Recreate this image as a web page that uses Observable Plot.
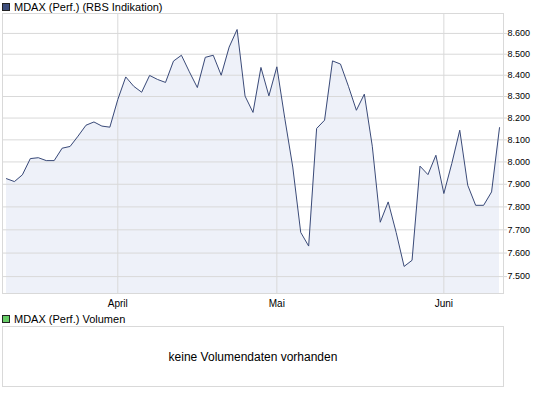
<!DOCTYPE html>
<html>
<head>
<meta charset="utf-8">
<script src="https://cdn.jsdelivr.net/npm/d3@7"></script>
<script src="https://cdn.jsdelivr.net/npm/@observablehq/plot@0.6"></script>
<style>
  body { margin: 0; background: #fff; font-family: Arial, "Liberation Sans", sans-serif; }
  #wrap { position: relative; width: 545px; height: 395px; overflow: hidden; }
  #chart { position: absolute; left: 0; top: 0; }
  .leg { position: absolute; left: 2px; font-size: 11px; line-height: 12px; color: #000; white-space: nowrap; }
  .sw { position: absolute; left: 0; top: 2px; width: 6px; height: 6px; border: 1px solid #222; }
  .leg span.t { position: absolute; left: 12px; top: 0; }
  #vol { position: absolute; left: 2px; top: 326px; width: 500px; height: 59px; border: 1px solid #d9d9d9;
         display: flex; align-items: center; justify-content: center; font-size: 12px; color: #000; }
</style>
</head>
<body>
<div id="wrap">
  <div id="chart"></div>
  <div class="leg" id="leg1" style="top:1px;"><div class="sw" style="background:#3d4d7c;"></div><span class="t"></span></div>
  <div class="leg" id="leg2" style="top:313px;"><div class="sw" style="background:#66cc66;"></div><span class="t"></span></div>
  <div id="vol"></div>
</div>
<script>
// ---- data ----
const seriesName = "MDAX (Perf.) (RBS Indikation)";
const volumeName = "MDAX (Perf.) Volumen";
const noVolumeText = "keine Volumendaten vorhanden";

const dates = [
  "2010-03-12","2010-03-15","2010-03-16","2010-03-17","2010-03-18","2010-03-19",
  "2010-03-22","2010-03-23","2010-03-24","2010-03-25","2010-03-26",
  "2010-03-29","2010-03-30","2010-03-31",
  "2010-04-01","2010-04-06","2010-04-07","2010-04-08","2010-04-09",
  "2010-04-12","2010-04-13","2010-04-14","2010-04-15","2010-04-16",
  "2010-04-19","2010-04-20","2010-04-21","2010-04-22","2010-04-23",
  "2010-04-26","2010-04-27","2010-04-28","2010-04-29","2010-04-30",
  "2010-05-03","2010-05-04","2010-05-05","2010-05-06","2010-05-07",
  "2010-05-10","2010-05-11","2010-05-12","2010-05-13","2010-05-14",
  "2010-05-17","2010-05-18","2010-05-19","2010-05-20","2010-05-21",
  "2010-05-24","2010-05-25","2010-05-26","2010-05-27","2010-05-28",
  "2010-05-31",
  "2010-06-01","2010-06-02","2010-06-03","2010-06-04",
  "2010-06-07","2010-06-08","2010-06-09","2010-06-10"
];
const values = [
  7925, 7912, 7942, 8015, 8019, 8006,
  8006, 8062, 8070, 8117, 8167,
  8182, 8163, 8158,
  8286, 8392, 8348, 8320, 8399,
  8380, 8366, 8467, 8495, 8416,
  8342, 8485, 8495, 8400, 8534,
  8619, 8302, 8226, 8437, 8303,
  8440, 8198, 7977, 7689, 7630,
  8152, 8190, 8468, 8453, 8348,
  8236, 8311, 8071, 7733, 7822,
  7689, 7543, 7569, 7981, 7943,
  8030,
  7859, 7993, 8144, 7896,
  7807, 7807, 7866, 8156
];
const yTicks = [7500, 7600, 7700, 7800, 7900, 8000, 8100, 8200, 8300, 8400, 8500, 8600];
const monthTicks = ["2010-04-01", "2010-05-03", "2010-06-01"];
const monthLabels = ["April", "Mai", "Juni"];
const yDomain = [7429, 8697];

// ---- build ----
const data = dates.map((d, i) => ({date: d, value: values[i]}));
const de = d3.formatLocale({decimal: ",", thousands: ".", grouping: [3], currency: ["", " €"]});
const fmt = de.format(",");
const monthLabel = new Map(monthTicks.map((d, i) => [d, monthLabels[i]]));
const grid = "#d9d9d9";

const chart = Plot.plot({
  width: 545,
  height: 310,
  marginTop: 13,
  marginBottom: 17,
  marginLeft: 2,
  marginRight: 42,
  style: {fontFamily: 'Arial, "Liberation Sans", sans-serif', color: "#000", background: "transparent"},
  x: {type: "point", domain: dates, padding: 0.5, label: null},
  y: {type: "log", domain: yDomain, label: null},
  marks: [
    Plot.areaY(data, {x: "date", y1: yDomain[0], y2: "value", fill: "#eef1f9"}),
    Plot.gridY(yTicks, {stroke: grid, strokeOpacity: 1}),
    Plot.gridX(monthTicks, {stroke: grid, strokeOpacity: 1}),
    Plot.frame({stroke: grid}),
    Plot.lineY(data, {x: "date", y: "value", stroke: "#3a4a78", strokeWidth: 1}),
    Plot.axisY(yTicks, {anchor: "right", tickSize: 3, tickFormat: () => "", stroke: grid}),
    Plot.text(yTicks, {y: d => d, text: d => fmt(d), frameAnchor: "right", textAnchor: "start", dx: 4, fontSize: 9, fill: "#000"}),
    Plot.axisX(monthTicks, {anchor: "bottom", tickSize: 0, tickPadding: 6, tickFormat: d => monthLabel.get(d), fontSize: 10})
  ]
});
document.getElementById("chart").appendChild(chart);
document.querySelector("#leg1 .t").textContent = seriesName;
document.querySelector("#leg2 .t").textContent = volumeName;
document.getElementById("vol").textContent = noVolumeText;
</script>
</body>
</html>
